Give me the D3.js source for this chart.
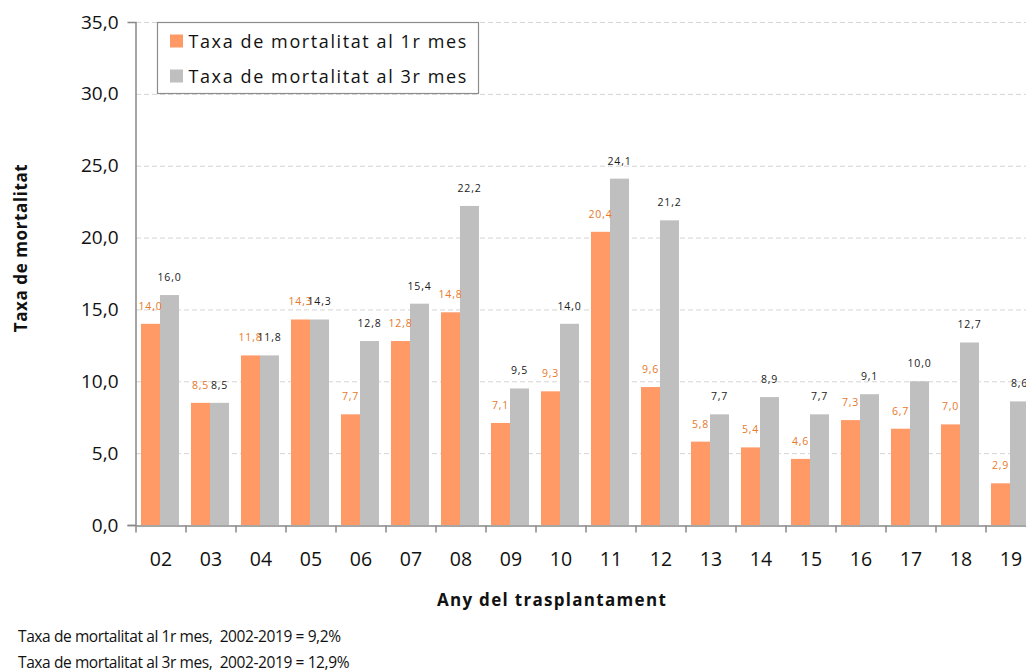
<!DOCTYPE html>
<html><head><meta charset="UTF-8">
<script src="https://cdn.jsdelivr.net/npm/d3@7"></script>
<style>
  body { margin: 0; background: #fff; font-family: "Open Sans", "Noto Sans", sans-serif; }
  svg { display: block; font-family: "Open Sans", "Noto Sans", sans-serif; }
</style>
</head>
<body>
<svg id="chart"></svg>
<script>
  // dades
  var years = ["02","03","04","05","06","07","08","09","10","11","12","13","14","15","16","17","18","19"];
  var mes1 = [14.0, 8.5, 11.8, 14.3, 7.7, 12.8, 14.8, 7.1, 9.3, 20.4, 9.6, 5.8, 5.4, 4.6, 7.3, 6.7, 7.0, 2.9];
  var mes3 = [16.0, 8.5, 11.8, 14.3, 12.8, 15.4, 22.2, 9.5, 14.0, 24.1, 21.2, 7.7, 8.9, 7.7, 9.1, 10.0, 12.7, 8.6];
  var seriesNames = ["Taxa de mortalitat al 1r mes", "Taxa de mortalitat al 3r mes"];
  var yTicks = [0, 5, 10, 15, 20, 25, 30, 35];
  var notes = ["Taxa de mortalitat al 1r mes,  2002-2019 = 9,2%",
               "Taxa de mortalitat al 3r mes,  2002-2019 = 12,9%"];

  var width = 1026, height = 671;
  var pad = { left: 136, right: 1036, top: 22, bottom: 525 };
  var colors = ["#FF9966", "#BFBFBF"];
  var labelColors = ["#E8782A", "#1a1a1a"];
  var fmt = function (v) { return v.toFixed(1).replace(".", ","); };
  var FONT = '"Open Sans", "Noto Sans", sans-serif';

  var svg = d3.select("#chart").attr("width", width).attr("height", height);

  var x = d3.scaleBand().domain(years).range([pad.left, pad.right]);
  var xs = d3.scaleBand().domain([0, 1]).range([5, 43]);
  var y = d3.scaleLinear().domain([0, 35]).range([pad.bottom, pad.top]);

  // graella
  svg.append("g").selectAll("line")
    .data(yTicks.filter(function (d) { return d > 0; }))
    .enter().append("line")
    .attr("x1", pad.left).attr("x2", width)
    .attr("y1", function (d) { return y(d) + 0.5; }).attr("y2", function (d) { return y(d) + 0.5; })
    .attr("stroke", "#d4d4d4").attr("stroke-dasharray", "5,3");

  // barres
  var groups = svg.append("g").selectAll("g")
    .data(years).enter().append("g")
    .attr("transform", function (d) { return "translate(" + x(d) + ",0)"; });

  [mes1, mes3].forEach(function (vals, s) {
    groups.append("rect")
      .attr("x", xs(s))
      .attr("width", xs.bandwidth())
      .attr("y", function (d, i) { return y(vals[i]); })
      .attr("height", function (d, i) { return y(0) - y(vals[i]); })
      .attr("fill", colors[s]);
  });
  [mes1, mes3].forEach(function (vals, s) {
    groups.append("text")
      .attr("x", xs(s) + xs.bandwidth() / 2)
      .attr("y", function (d, i) { return y(vals[i]) - 14; })
      .attr("text-anchor", "middle")
      .attr("font-size", 10.5)
      .attr("letter-spacing", 0.8)
      .attr("fill", labelColors[s])
      .text(function (d, i) { return fmt(vals[i]); });
  });

  // eixos
  var yAxis = d3.axisLeft(y).tickValues(yTicks).tickSize(8).tickPadding(9)
    .tickFormat(function (d) { return d.toFixed(1).replace(".", ","); });
  var gy = svg.append("g").attr("transform", "translate(" + (pad.left - 0.5) + ",0)").call(yAxis)
    .attr("font-family", FONT);
  gy.select(".domain").attr("stroke", "#888").attr("stroke-width", 1.5);
  gy.selectAll(".tick line").attr("stroke", "#888").attr("stroke-width", 1.5)
    .attr("display", function (d) { return d === 0 ? null : "none"; });
  gy.selectAll("text").attr("font-size", 19).attr("fill", "#111");

  var xAxis = d3.axisBottom(x).tickSize(0).tickPadding(27);
  var gx = svg.append("g").attr("transform", "translate(0," + (pad.bottom + 0.5) + ")").call(xAxis)
    .attr("font-family", FONT);
  gx.select(".domain").attr("stroke", "#888").attr("stroke-width", 1.5);
  gx.selectAll("text").attr("font-size", 19.5).attr("fill", "#111");
  gx.selectAll(".sep").data(years).enter().append("line")
    .attr("class", "sep")
    .attr("x1", function (d) { return x(d); }).attr("x2", function (d) { return x(d); })
    .attr("y1", 0).attr("y2", 7).attr("stroke", "#888").attr("stroke-width", 1.5);

  // títols
  svg.append("text").attr("transform", "translate(27,248) rotate(-90)")
    .attr("text-anchor", "middle").attr("font-size", 17).attr("font-weight", "bold")
    .attr("letter-spacing", 0.6)
    .attr("fill", "#111").text("Taxa de mortalitat");
  svg.append("text").attr("x", 552).attr("y", 606)
    .attr("text-anchor", "middle").attr("font-size", 17).attr("font-weight", "bold")
    .attr("letter-spacing", 1.3)
    .attr("fill", "#111").text("Any del trasplantament");

  // llegenda
  var lg = svg.append("g").attr("transform", "translate(157.5,22.5)");
  lg.append("rect").attr("width", 321).attr("height", 71)
    .attr("fill", "#fff").attr("stroke", "#8c8c8c").attr("stroke-width", 1.2);
  seriesNames.forEach(function (name, i) {
    lg.append("rect").attr("x", 12.5).attr("y", 12 + i * 35).attr("width", 13).attr("height", 13)
      .attr("fill", colors[i]);
    lg.append("text").attr("x", 31).attr("y", 25 + i * 35)
      .attr("font-size", 18).attr("letter-spacing", 1.6).attr("fill", "#111").text(name);
  });

  // notes
  svg.append("g").selectAll("text").data(notes).enter().append("text")
    .attr("x", 18).attr("y", function (d, i) { return 642 + i * 26; })
    .attr("font-size", 15.5).attr("letter-spacing", -0.4).attr("fill", "#111")
    .attr("xml:space", "preserve").text(function (d) { return d; });
</script>
</body></html>
